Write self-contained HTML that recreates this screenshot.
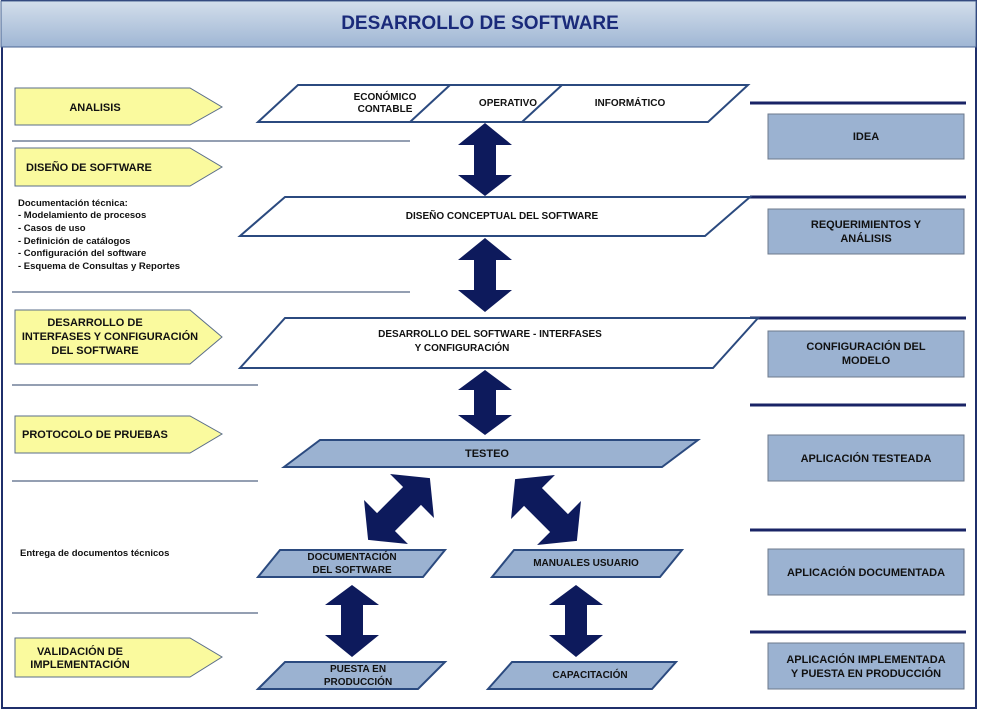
<!DOCTYPE html>
<html><head><meta charset="utf-8"><style>
body{margin:0;background:#fff;}
svg{display:block;font-family:"Liberation Sans",sans-serif;font-weight:bold;}
</style></head><body>
<svg width="986" height="716" viewBox="0 0 986 716" xmlns="http://www.w3.org/2000/svg">
<defs>
<linearGradient id="tg" x1="0" y1="0" x2="0" y2="1"><stop offset="0" stop-color="#d3deeb"/><stop offset="1" stop-color="#9fb6d4"/></linearGradient>
</defs>
<rect x="2" y="1" width="974" height="707" fill="#fff" stroke="#1f2f6b" stroke-width="2"/>
<rect x="1" y="1" width="975" height="46" fill="url(#tg)" stroke="#4a6593" stroke-width="1"/>
<text x="480" y="29" text-anchor="middle" font-size="19" fill="#1a2a7a">DESARROLLO DE SOFTWARE</text>

<g fill="#fafa9e" stroke="#5a6d8a" stroke-width="1">
<polygon points="15,88 190,88 222,107 190,125 15,125"/>
<polygon points="15,148 190,148 222,167 190,186 15,186"/>
<polygon points="15,310 190,310 222,337 190,364 15,364"/>
<polygon points="15,416 190,416 222,434 190,453 15,453"/>
<polygon points="15,638 190,638 222,657 190,677 15,677"/>
</g>
<g font-size="11" fill="#111">
<text x="95" y="111" text-anchor="middle">ANALISIS</text>
<text x="26" y="171">DISEÑO DE SOFTWARE</text>
<text x="95" y="326" text-anchor="middle">DESARROLLO DE</text>
<text x="110" y="340" text-anchor="middle">INTERFASES Y CONFIGURACIÓN</text>
<text x="95" y="354" text-anchor="middle">DEL SOFTWARE</text>
<text x="22" y="438">PROTOCOLO DE PRUEBAS</text>
<text x="80" y="655" text-anchor="middle">VALIDACIÓN DE</text>
<text x="80" y="668" text-anchor="middle">IMPLEMENTACIÓN</text>
</g>
<g font-size="9.5" fill="#111">
<text x="18" y="206">Documentación técnica:</text>
<text x="18" y="218">- Modelamiento de procesos</text>
<text x="18" y="231">- Casos de uso</text>
<text x="18" y="244">- Definición de catálogos</text>
<text x="18" y="256">- Configuración del software</text>
<text x="18" y="269">- Esquema de Consultas y Reportes</text>
<text x="20" y="556">Entrega de documentos técnicos</text>
</g>
<g stroke="#2a3f66" stroke-width="1">
<line x1="12" y1="141" x2="410" y2="141"/>
<line x1="12" y1="292" x2="410" y2="292"/>
<line x1="12" y1="385" x2="258" y2="385"/>
<line x1="12" y1="481" x2="258" y2="481"/>
<line x1="12" y1="613" x2="258" y2="613"/>
</g>
<g stroke="#1a2466" stroke-width="3">
<line x1="750" y1="103" x2="966" y2="103"/>
<line x1="750" y1="197" x2="966" y2="197"/>
<line x1="750" y1="318" x2="966" y2="318"/>
<line x1="750" y1="405" x2="966" y2="405"/>
<line x1="750" y1="530" x2="966" y2="530"/>
<line x1="750" y1="632" x2="966" y2="632"/>
</g>
<g fill="#9bb2d1" stroke="#6d7a8c" stroke-width="1">
<rect x="768" y="114" width="196" height="45"/>
<rect x="768" y="209" width="196" height="45"/>
<rect x="768" y="331" width="196" height="46"/>
<rect x="768" y="435" width="196" height="46"/>
<rect x="768" y="549" width="196" height="46"/>
<rect x="768" y="643" width="196" height="46"/>
</g>
<g font-size="11" fill="#111" text-anchor="middle">
<text x="866" y="140">IDEA</text>
<text x="866" y="228">REQUERIMIENTOS  Y</text>
<text x="866" y="242">ANÁLISIS</text>
<text x="866" y="350">CONFIGURACIÓN DEL</text>
<text x="866" y="364">MODELO</text>
<text x="866" y="462">APLICACIÓN TESTEADA</text>
<text x="866" y="576">APLICACIÓN DOCUMENTADA</text>
<text x="866" y="663">APLICACIÓN IMPLEMENTADA</text>
<text x="866" y="677">Y PUESTA EN PRODUCCIÓN</text>
</g>

<g stroke="#2b4a7f" stroke-width="2">
<polygon points="258,122 298,85 748,85 708,122" fill="#fff"/>
<line x1="410" y1="122" x2="450" y2="85"/>
<line x1="522" y1="122" x2="562" y2="85"/>
<polygon points="240,236 285,197 750,197 705,236" fill="#fff"/>
<polygon points="240,368 285,318 758,318 713,368" fill="#fff"/>
</g>
<g stroke="#2b4a7f" stroke-width="2" fill="#9bb2d1">
<polygon points="284,467 320,440 698,440 662,467"/>
<polygon points="258,577 280,550 445,550 423,577"/>
<polygon points="492,577 514,550 682,550 660,577"/>
<polygon points="258,689 285,662 445,662 418,689"/>
<polygon points="488,689 512,662 676,662 652,689"/>
</g>
<g font-size="10" fill="#111" text-anchor="middle">
<text x="385" y="100">ECONÓMICO</text>
<text x="385" y="112">CONTABLE</text>
<text x="508" y="106">OPERATIVO</text>
<text x="630" y="106">INFORMÁTICO</text>
<text x="502" y="219">DISEÑO CONCEPTUAL DEL SOFTWARE</text>
<text x="490" y="337">DESARROLLO DEL SOFTWARE -  INTERFASES</text>
<text x="462" y="351">Y CONFIGURACIÓN</text>
<text x="487" y="457" font-size="11">TESTEO</text>
<text x="352" y="560">DOCUMENTACIÓN</text>
<text x="352" y="573">DEL SOFTWARE</text>
<text x="586" y="566">MANUALES USUARIO</text>
<text x="358" y="672">PUESTA EN</text>
<text x="358" y="685">PRODUCCIÓN</text>
<text x="590" y="678">CAPACITACIÓN</text>
</g>

<g fill="#0d1a5c">
<polygon points="485,123 512,145 496,145 496,175 512,175 485,196 458,175 474,175 474,145 458,145"/>
<polygon points="485,238 512,260 496,260 496,290 512,290 485,312 458,290 474,290 474,260 458,260"/>
<polygon points="485,370 512,390 496,390 496,415 512,415 485,435 458,415 474,415 474,390 458,390"/>
<polygon points="352,585 379,605 363,605 363,635 379,635 352,657 325,635 341,635 341,605 325,605"/>
<polygon points="576,585 603,605 587,605 587,635 603,635 576,657 549,635 565,635 565,605 549,605"/>
<g transform="translate(399,509) rotate(45) scale(1.15)"><polygon points="0,-38 27,-16 11,-16 11,16 27,16 0,38 -27,16 -11,16 -11,-16 -27,-16"/></g>
<g transform="translate(546,510) rotate(-45) scale(1.15)"><polygon points="0,-38 27,-16 11,-16 11,16 27,16 0,38 -27,16 -11,16 -11,-16 -27,-16"/></g>
</g>
</svg>
</body></html>
